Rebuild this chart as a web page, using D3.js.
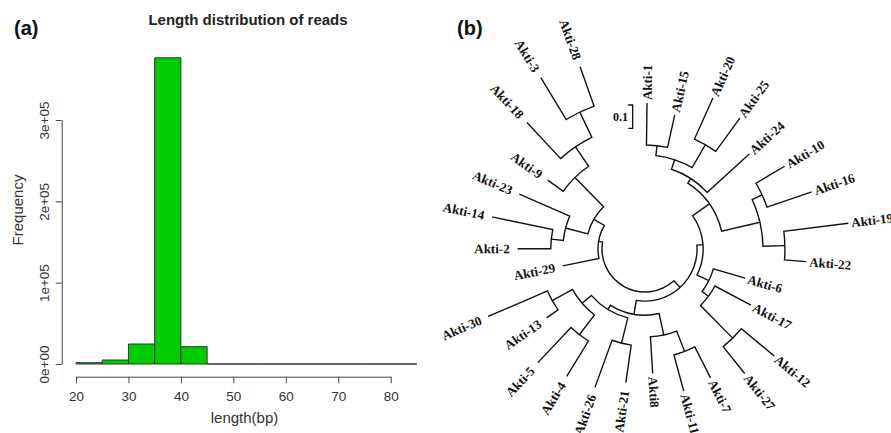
<!DOCTYPE html>
<html><head><meta charset="utf-8">
<script src="https://cdn.jsdelivr.net/npm/d3@7"></script>
<style>body{margin:0;background:#fff} svg{display:block}</style>
</head><body>
<svg id="chart" width="891" height="433"></svg>
<script>
// ---------- (a) histogram data ----------
const binStarts = [20,25,30,35,40,45,50,55,60,65,70,75,80];
const binWidth = 5;
const binCounts = [1600,4900,24600,376500,21300,0,0,0,0,0,0,0,0];
const xTicks = [20,30,40,50,60,70,80];
const yTicks = [0,100000,200000,300000];
const yTickLabels = ["0e+00","1e+05","2e+05","3e+05"];
const histTitle = "Length distribution of reads";
const xTitle = "length(bp)";
const yTitle = "Frequency";

// ---------- (b) tree data: [node, parent, branch length] ----------
const treeEdges = [
  ["root", null, 0],
  ["RG","root",0.039],
  ["UP","RG",0.026],
  ["E","UP",0.088],
  ["D","E",0.023],
  ["B","D",0.043],
  ["A","B",0.043],
  ["Akti-1","A",0.180],
  ["Akti-15","A",0.143],
  ["C","B",0.114],
  ["Akti-20","C",0.193],
  ["Akti-25","C",0.176],
  ["Akti-24","D",0.245],
  ["F","E",0.169],
  ["G","F",0.047],
  ["Akti-10","G",0.143],
  ["Akti-16","G",0.203],
  ["H","F",0.094],
  ["Akti-19","H",0.279],
  ["Akti-22","H",0.094],
  ["M","UP",0.056],
  ["Akti-6","M",0.142],
  ["N","M",0.034],
  ["Akti-17","N",0.175],
  ["P","N",0.197],
  ["Akti-12","P",0.183],
  ["Akti-27","P",0.148],
  ["S","RG",0.060],
  ["R","S",0.094],
  ["Q","R",0.094],
  ["Akti-7","Q",0.149],
  ["Akti-11","Q",0.161],
  ["Akti8","R",0.158],
  ["Z","S",0.021],
  ["U","Z",0.112],
  ["Akti-21","U",0.163],
  ["Akti-26","U",0.215],
  ["Y","Z",0.052],
  ["V","Y",0.107],
  ["Akti-4","V",0.178],
  ["Akti-5","V",0.208],
  ["X","Y",0.099],
  ["Akti-13","X",0.060],
  ["Akti-30","X",0.277],
  ["LG","root",0.017],
  ["Akti-29","LG",0.159],
  ["NL","LG",0.052],
  ["N23","NL",0.099],
  ["N14","N23",0.052],
  ["Akti-2","N14",0.142],
  ["Akti-14","N14",0.266],
  ["Akti-23","N23",0.236],
  ["N9","NL",0.176],
  ["Akti-9","N9",0.082],
  ["N18","N9",0.101],
  ["Akti-18","N18",0.212],
  ["N3","N18",0.120],
  ["Akti-3","N3",0.210],
  ["Akti-28","N3",0.180]
];
const scaleBarValue = 0.1;
const scaleBarLabel = "0.1";

const SANS = "'Liberation Sans', Arial, Helvetica, sans-serif";
const SERIF = "'Liberation Serif', 'Times New Roman', serif";
const svg = d3.select("#chart");

// panel labels
svg.append("text").attr("x",14).attr("y",35).attr("font-family",SANS)
  .attr("font-weight","bold").attr("font-size",20).attr("fill","#111").text("(a)");
svg.append("text").attr("x",457).attr("y",35).attr("font-family",SANS)
  .attr("font-weight","bold").attr("font-size",20).attr("fill","#111").text("(b)");

// ---------- histogram ----------
const x = d3.scaleLinear().domain([20,80]).range([76,390.7]);
const y = d3.scaleLinear().domain([0,300000]).range([364,120]);
const hg = svg.append("g");

hg.selectAll("path.bar")
  .data(binStarts.map((s,i)=>({s, c: binCounts[i]})))
  .join("path")
  .attr("class","bar")
  .attr("d", d => {
    const p = d3.path();
    const x0 = x(d.s), x1 = x(d.s + binWidth), y0 = y(0), y1 = y(d.c);
    p.moveTo(x0,y0); p.lineTo(x0,y1); p.lineTo(x1,y1); p.lineTo(x1,y0); p.closePath();
    return p.toString();
  })
  .attr("fill","#00CC00")
  .attr("stroke","#333")
  .attr("stroke-width",1);

const xAxis = hg.append("g").attr("transform","translate(0,376.7)")
  .call(d3.axisBottom(x).tickValues(xTicks).tickSize(6.5).tickSizeOuter(0).tickFormat(d3.format("d")));
xAxis.selectAll("text").attr("y",24.8).attr("dy",0)
  .attr("font-family",SANS).attr("font-size",13.5).attr("fill","#333");

const yAxis = hg.append("g").attr("transform","translate(61.7,0)")
  .call(d3.axisLeft(y).tickValues(yTicks).tickSize(6).tickSizeOuter(0).tickFormat((d,i)=>yTickLabels[i]));
yAxis.selectAll("text").attr("x",0).attr("y",0).attr("dy",0)
  .attr("transform","translate(-13.2,0) rotate(-90)")
  .attr("text-anchor","middle")
  .attr("font-family",SANS).attr("font-size",13.5).attr("fill","#333");
[xAxis, yAxis].forEach(a => {
  a.selectAll("path.domain").attr("stroke","#444");
  a.selectAll(".tick line").attr("stroke","#444");
});

hg.append("text").attr("x",248).attr("y",25).attr("text-anchor","middle")
  .attr("font-family",SANS).attr("font-weight","bold").attr("font-size",15).attr("fill","#222").text(histTitle);
hg.append("text").attr("x",244.5).attr("y",423).attr("text-anchor","middle")
  .attr("font-family",SANS).attr("font-size",15).attr("fill","#333").text(xTitle);
hg.append("text").attr("transform","translate(22.5,210) rotate(-90)").attr("text-anchor","middle")
  .attr("font-family",SANS).attr("font-size",15).attr("fill","#333").text(yTitle);

// ---------- circular tree ----------
const cx = 645, cy = 249;
const rScale = d3.scaleLinear().domain([0, 0.1]).range([43, 66.3]);
const tree = d3.stratify().id(d => d[0]).parentId(d => d[1])(treeEdges);
tree.eachBefore(n => { n.dist = n.parent ? n.parent.dist + n.data[2] : 0; });
const leaves = tree.leaves();
const angleScale = d3.scaleLinear().domain([0, leaves.length - 1]).range([0.8, 340.4]);
leaves.forEach((l, i) => { l.ang = angleScale(i); });
tree.eachAfter(n => {
  if (n.children) n.ang = (n.children[0].ang + n.children[n.children.length - 1].ang) / 2;
});
const rad = a => a * Math.PI / 180;
const pt = (a, r) => { const p = d3.pointRadial(rad(a), r); return [cx + p[0], cy + p[1]]; };

const tg = svg.append("g");
tg.selectAll("path.clade")
  .data(tree.descendants().filter(n => n.children))
  .join("path")
  .attr("class","clade")
  .attr("d", n => {
    const r = rScale(n.dist);
    const c0 = n.children[0], c1 = n.children[n.children.length - 1];
    const p = d3.path();
    let q = pt(c0.ang, rScale(c0.dist)); p.moveTo(q[0], q[1]);
    q = pt(c0.ang, r); p.lineTo(q[0], q[1]);
    p.arc(cx, cy, r, rad(c0.ang - 90), rad(c1.ang - 90), false);
    q = pt(c1.ang, rScale(c1.dist)); p.lineTo(q[0], q[1]);
    return p.toString();
  })
  .attr("fill","none")
  .attr("stroke","#111")
  .attr("stroke-width",1.4)
  .attr("stroke-linejoin","miter");

tg.selectAll("text.leaf")
  .data(leaves)
  .join("text")
  .attr("class","leaf")
  .attr("transform", d => {
    const r = rScale(d.dist), flip = d.ang >= 180;
    return `translate(${cx},${cy}) rotate(${d.ang - 90}) translate(${r + (flip ? 8 : 3)},0)` + (flip ? " rotate(180)" : "");
  })
  .attr("text-anchor", d => d.ang >= 180 ? "end" : "start")
  .attr("dy","0.35em")
  .attr("font-family",SERIF).attr("font-weight","bold").attr("font-size",13).attr("fill","#111")
  .text(d => d.id);

// scale bar
const sbLen = rScale(scaleBarValue) - rScale(0);
const sbX = 632.7, sbY = 105;
const sb = d3.path();
sb.moveTo(sbX - 4.5, sbY); sb.lineTo(sbX, sbY); sb.lineTo(sbX, sbY + sbLen); sb.lineTo(sbX - 4.5, sbY + sbLen);
tg.append("path").attr("d", sb.toString()).attr("fill","none").attr("stroke","#111").attr("stroke-width",1.3);
tg.append("text").attr("x",628).attr("y",sbY + sbLen/2).attr("dy","0.35em").attr("text-anchor","end")
  .attr("font-family",SERIF).attr("font-weight","bold").attr("font-size",12).attr("fill","#111").text(scaleBarLabel);
</script>
</body></html>
